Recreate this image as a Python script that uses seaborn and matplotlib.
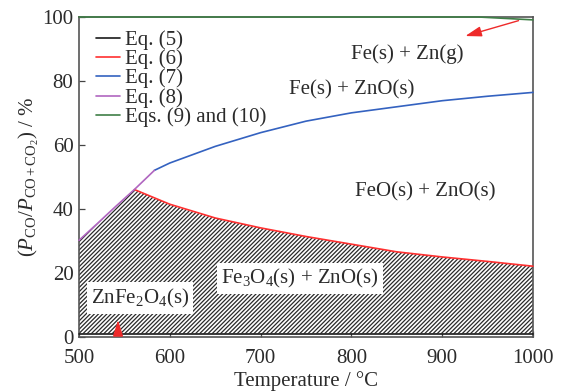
import numpy as np
import matplotlib
matplotlib.use("Agg")
import matplotlib.pyplot as plt
import seaborn as sns

# Equilibrium gas compositions (P_CO / P_CO+CO2, %) versus temperature (°C)
temp_eq5 = [500, 1000]
pco_eq5 = [0.9, 0.9]

temp_eq6 = [561, 600, 650, 700, 750, 800, 850, 900, 950, 1000]
pco_eq6 = [46.0, 41.4, 37.1, 34.0, 31.3, 28.9, 26.5, 24.9, 23.5, 22.0]

temp_eq7 = [583, 600, 650, 700, 750, 800, 850, 900, 950, 1000]
pco_eq7 = [52.0, 54.3, 59.5, 63.8, 67.4, 70.0, 71.9, 73.8, 75.2, 76.4]

temp_eq8 = [500, 520, 540, 561, 583]
pco_eq8 = [30.1, 35.3, 40.6, 46.0, 52.0]

temp_eq910 = [500, 940, 1000]
pco_eq910 = [100.0, 100.0, 99.1]

series_labels = ["Eq. (5)", "Eq. (6)", "Eq. (7)", "Eq. (8)", "Eqs. (9) and (10)"]
series_colors = ["#1a1a1a", "#ff3030", "#3462c0", "#b066c0", "#3f7f47"]

x_ticks = [500, 600, 700, 800, 900, 1000]
y_ticks = [0, 20, 40, 60, 80, 100]

sns.set_theme(style="ticks")
plt.rcParams["font.family"] = ["Liberation Serif", "DejaVu Serif"]
plt.rcParams["mathtext.fontset"] = "custom"
plt.rcParams["mathtext.rm"] = "Liberation Serif"
plt.rcParams["mathtext.it"] = "Liberation Serif:italic"
plt.rcParams["hatch.linewidth"] = 0.9
plt.rcParams["hatch.color"] = "#2a2a2a"

text_color = "#2b2b2b"
fs = 15

fig = plt.figure(figsize=(5.64, 3.92), dpi=100)
ax = fig.add_axes([79 / 564, 55.5 / 392, 454 / 564, 319.5 / 392])

# Hatched stability field of Fe3O4 + ZnO / ZnFe2O4 (below Eq. 8 then Eq. 6)
t_fill = np.linspace(500, 1000, 501)
upper = np.where(t_fill <= temp_eq6[0],
                 np.interp(t_fill, temp_eq8, pco_eq8),
                 np.interp(t_fill, temp_eq6, pco_eq6))
lower = np.interp(t_fill, temp_eq5, pco_eq5)
ax.fill_between(t_fill, lower, upper, facecolor="white", edgecolor="#2a2a2a",
                hatch="////////", linewidth=0, zorder=1)

series = [(temp_eq5, pco_eq5), (temp_eq6, pco_eq6), (temp_eq7, pco_eq7),
          (temp_eq8, pco_eq8), (temp_eq910, pco_eq910)]
for (tx, py), lab, col in zip(series, series_labels, series_colors):
    sns.lineplot(x=tx, y=py, color=col, label=lab, ax=ax, linewidth=1.2,
                 sort=False, zorder=3, clip_on=False)

ax.set_xlim(500, 1000)
ax.set_ylim(0, 100)
ax.set_xticks(x_ticks)
ax.set_yticks(y_ticks)
ax.tick_params(direction="in", length=4, width=0.9, labelsize=fs,
               colors="#444444", labelcolor=text_color, pad=4,
               top=False, right=False)
ax.tick_params(axis="x", pad=9)
for side in ["left", "bottom", "right", "top"]:
    ax.spines[side].set_visible(True)
    ax.spines[side].set_color("#555555")
    ax.spines[side].set_linewidth(1.2)
    ax.spines[side].set_zorder(2)

ax.set_xlabel("Temperature / °C", fontsize=fs, color=text_color, labelpad=2)
ax.set_ylabel(r"$(P_{\mathrm{CO}}/P_{\mathrm{CO+CO_2}})$ / %", fontsize=fs,
              color=text_color, labelpad=1)

# Phase field labels
label_kw = dict(fontsize=fs, color=text_color, ha="center", va="center", zorder=5)
ax.text(861, 88.4, "Fe(s) + Zn(g)", **label_kw)
ax.text(800, 77.2, "Fe(s) + ZnO(s)", **label_kw)
ax.text(881, 45.3, "FeO(s) + ZnO(s)", **label_kw)
box = dict(facecolor="white", edgecolor="none", pad=3)
ax.text(743, 18.2, r"Fe$_3$O$_4$(s) + ZnO(s)", bbox=box, **label_kw)
ax.text(567, 12.0, r"ZnFe$_2$O$_4$(s)", bbox=box, **label_kw)

# Arrows marking narrow fields
arrow_kw = dict(arrowstyle="-|>,head_length=0.7,head_width=0.22",
                color="#ee2a2a", lw=1.0, mutation_scale=14)
ax.annotate("", xy=(922.5, 93.8), xytext=(987, 99.1), arrowprops=arrow_kw, zorder=6)
ax.annotate("", xy=(543, 6.0), xytext=(543, 0.0), arrowprops=arrow_kw, zorder=6)

leg = ax.legend(loc="upper left", bbox_to_anchor=(0.02, 0.985), frameon=False,
                fontsize=fs, handlelength=1.15, handletextpad=0.2,
                labelspacing=-0.02, borderaxespad=0, borderpad=0.4)
for t in leg.get_texts():
    t.set_color(text_color)

fig.savefig("out.png", dpi=100)
